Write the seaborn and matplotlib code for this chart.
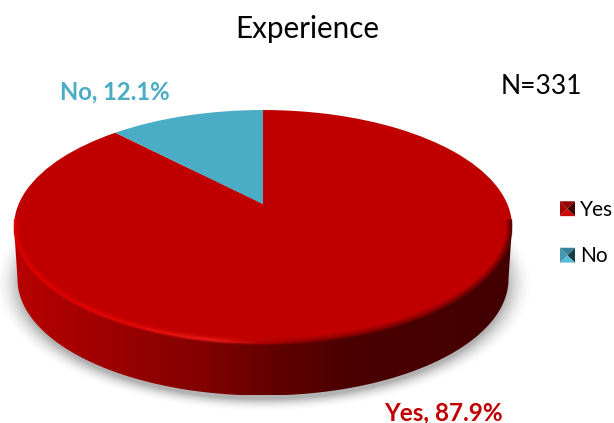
import numpy as np
import matplotlib
matplotlib.use("Agg")
import matplotlib.pyplot as plt
import seaborn as sns
from matplotlib.collections import LineCollection
from matplotlib.colors import LinearSegmentedColormap, to_rgb
from matplotlib.legend_handler import HandlerBase
from matplotlib.patches import Patch, PathPatch, Polygon
from matplotlib.path import Path
from matplotlib.transforms import Transform

categories = ["Yes", "No"]
percentages = [87.9, 12.1]
colors = ["#C00000", "#4BACC6"]
label_colors = ["#C00000", "#4BACC6"]
title = "Experience"
note = "N=331"

W, H = 614, 423
CX, CY, RX, RY = 263.0, 226.5, 249.0, 116.5
BOTTOM_CY, BOTTOM_RX, BOTTOM_RY = 279.0, 245.5, 116.5
TILT = 0.193

sns.set_theme(style="white")
plt.rcParams["font.family"] = ["Lato", "DejaVu Sans"]

fig = plt.figure(figsize=(W / 100, H / 100), dpi=100, facecolor="white")
ax = fig.add_axes([0, 0, 1, 1])


def dx(px):
    return (px - CX) / RX


def dy(py):
    return (CY - py) / RY


class Perspective(Transform):
    """Tilted-disc projection: keeps the unit circle, moves its centre back."""
    input_dims = output_dims = 2
    has_inverse = False

    def transform_non_affine(self, values):
        values = np.asarray(values, dtype=float)
        x, v = values[:, 0], values[:, 1]
        w = 1 + TILT * v
        return np.column_stack([x * np.sqrt(1 - TILT ** 2) / w, (v + TILT) / w])


wedges, _ = ax.pie(percentages, colors=colors, startangle=90, counterclock=False,
                   radius=1, wedgeprops={"linewidth": 0, "zorder": 3})
persp = Perspective()
for w in wedges:
    w.set_transform(persp + ax.transData)
ax.set_aspect("auto")

# soft shadow under the disc
yy, xx = np.mgrid[0:H, 0:W]
rad = np.sqrt(((xx - CX) / (BOTTOM_RX + 4)) ** 2 + ((yy - (BOTTOM_CY + 4)) / (BOTTOM_RY + 2)) ** 2)
fade = np.clip(1 - (rad - 0.975) / 0.11, 0, 1) ** 2
shadow = np.zeros((H, W, 4))
shadow[..., :3] = 0.4
shadow[..., 3] = 0.5 * fade
ax.imshow(shadow, extent=[dx(0), dx(W), dy(H), dy(0)], aspect="auto", zorder=1,
          interpolation="bilinear")

# side wall with a left-to-right gradient
side_cmap = LinearSegmentedColormap.from_list(
    "side", [(0.0, "#B80000"), (0.17, "#A00000"), (0.38, "#820000"), (0.52, "#620000"),
             (0.66, "#4C0000"), (1.0, "#420000")])
gradient = np.linspace(0, 1, 256)[None, :]
side_img = ax.imshow(gradient, cmap=side_cmap, extent=[-1, 1, dy(BOTTOM_CY + BOTTOM_RY), dy(CY)],
                     aspect="auto", zorder=2)
theta = np.linspace(np.pi, 2 * np.pi, 200)
bottom_x = dx(CX + BOTTOM_RX * np.cos(theta))
bottom_y = dy(BOTTOM_CY - BOTTOM_RY * np.sin(theta))
outline = np.vstack([np.column_stack([bottom_x, bottom_y]), [[1, 0], [-1, 0], [-1, 0]]])
codes = [Path.MOVETO] + [Path.LINETO] * (len(outline) - 2) + [Path.CLOSEPOLY]
clip = PathPatch(Path(outline, codes), transform=ax.transData, facecolor="none", edgecolor="none")
ax.add_patch(clip)
side_img.set_clip_path(clip)

# bevelled rim along the front of the top face
rim_cmap = LinearSegmentedColormap.from_list(
    "rim", [(0.0, "#E00000"), (0.22, "#E40808"), (0.40, "#EC1A1A"), (0.50, "#B00000"),
            (0.60, "#8E0000"), (0.85, "#7A0000"), (1.0, "#5A0000")])
t = np.linspace(np.pi * 0.98, np.pi * 2.02, 400)
pts = np.column_stack([np.cos(t), np.sin(t)]).reshape(-1, 1, 2)
segs = np.concatenate([pts[:-1], pts[1:]], axis=1)
pos = (np.cos(t[:-1]) + 1) / 2
for lw, alpha, scale in [(5.0, 0.25, 0.99), (3.0, 0.45, 0.992), (1.5, 0.9, 0.996)]:
    lc = LineCollection(segs * scale, cmap=rim_cmap, linewidths=lw, alpha=alpha,
                        zorder=4, capstyle="butt")
    lc.set_array(pos)
    lc.set_clim(0, 1)
    ax.add_collection(lc)

ax.set_xlim(dx(0), dx(W))
ax.set_ylim(dy(H), dy(0))
ax.axis("off")

ax.set_title(title, fontsize=21.3, color="black", y=1 - 38 / H, pad=0)
ax.text(dx(501), dy(87), note, fontsize=19, color="black", ha="left", va="center")
ax.text(dx(60), dy(92), f"{categories[1]}, {percentages[1]}%", fontsize=17.2, fontweight="bold",
        color=label_colors[1], ha="left", va="center")
ax.text(dx(384), dy(413), f"{categories[0]}, {percentages[0]}%", fontsize=17.5, fontweight="bold",
        color=label_colors[0], ha="left", va="center")


class PyramidHandler(HandlerBase):
    def create_artists(self, legend, orig, xd, yd, width, height, fontsize, trans):
        base = np.array(to_rgb(orig.get_facecolor()))
        x0, y0, x1, y1 = -xd, -yd, -xd + width, -yd + height
        c = ((x0 + x1) / 2, (y0 + y1) / 2)
        corners = [(x0, y0), (x1, y0), (x1, y1), (x0, y1)]
        shades = [(1.05, 0.03), (0.35, 0), (0.75, 0), (0.85, 0.02)]
        out = []
        for i, (k, mix) in enumerate(shades):
            col = np.clip(base * k + mix, 0, 1)
            out.append(Polygon([corners[i], corners[(i + 1) % 4], c], closed=True, facecolor=col,
                               edgecolor="none", transform=trans))
        return out


handles = [Patch(facecolor=c, label=n) for c, n in zip(colors, categories)]
ax.legend(handles=handles, loc="upper left", bbox_to_anchor=(560 / W, 1 - 200 / H), frameon=False,
          fontsize=15, handlelength=0.72, handleheight=0.72, handletextpad=0.25, borderpad=0,
          borderaxespad=0, labelspacing=1.27, labelcolor="black",
          handler_map={Patch: PyramidHandler()})

fig.savefig("out.png", dpi=100, facecolor="white")
